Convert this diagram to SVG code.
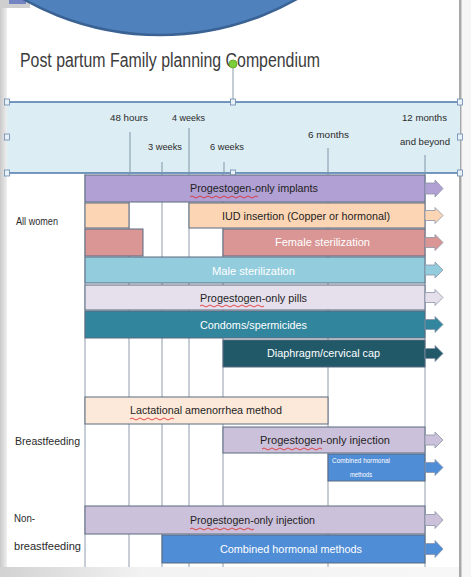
<svg xmlns="http://www.w3.org/2000/svg" width="471" height="577" viewBox="0 0 471 577">
<defs>
<style>
.t{font-family:"Liberation Sans Narrow","Liberation Sans",Arial,sans-serif;}
.hl{font-size:9px;fill:#2a2a2a;}
.bl{font-size:11px;fill:#1e1e1e;}
.wl{font-size:11px;fill:#ffffff;}
.rl{font-size:10.5px;fill:#2a2a2a;}
.bar{stroke:#5b6a80;stroke-width:1;}
.arr{stroke:#8a94a8;stroke-width:0.8;}
.grid{stroke:#8e9cab;stroke-width:1;fill:none;}
.tick{stroke:#7f95a8;stroke-width:1;}
.sq{fill:#e8f0f8;stroke:#6a8ab0;stroke-width:0.8;}
.wav{fill:none;stroke:#e02020;stroke-width:0.8;}
</style>
<linearGradient id="lg" x1="0" y1="0" x2="1" y2="0">
<stop offset="0" stop-color="#c9c9c9"/>
<stop offset="1" stop-color="#efefef"/>
</linearGradient>
<linearGradient id="bg" x1="0" y1="0" x2="1" y2="0">
<stop offset="0" stop-color="#d2d2d2"/>
<stop offset="0.3" stop-color="#f2f2f2"/>
<stop offset="1" stop-color="#f7f7f7"/>
</linearGradient>
</defs>

<rect x="0" y="0" width="471" height="577" fill="#ffffff"/>
<!-- frame -->
<rect x="0" y="0" width="7" height="577" fill="url(#lg)"/>
<rect x="0" y="0" width="30" height="8" fill="#cfcfcf"/>
<rect x="9" y="0" width="17" height="4" fill="#7384c2"/>
<rect x="0" y="567" width="471" height="10" fill="url(#bg)"/>
<rect x="459" y="0" width="2.5" height="577" fill="#a8a8a8"/>
<rect x="462" y="0" width="9" height="577" fill="#f6f6f6"/>

<!-- bubble -->
<g id="bubble">
<circle cx="160" cy="-243" r="278" fill="#4f81bd" stroke="#3a6293" stroke-width="2.5"/>
</g>

<!-- title -->
<g id="title">
<text class="t" x="20" y="67" font-size="20" fill="#3c3c3c" textLength="300" lengthAdjust="spacingAndGlyphs">Post partum Family planning Compendium</text>
<line x1="233" y1="68" x2="233" y2="100" stroke="#8a9aaa" stroke-width="1"/>
<circle cx="233" cy="64" r="4" fill="#7ccf3a" stroke="#5aa020" stroke-width="0.8"/>
</g>

<!-- header timeline -->
<g id="header">
<rect x="7" y="102" width="453" height="71" fill="#dcedf4"/>
<line x1="7" y1="102" x2="460" y2="102" stroke="#4a76aa" stroke-width="1.6"/>
<line x1="7" y1="173" x2="460" y2="173" stroke="#4a76aa" stroke-width="1.6"/>
<line class="tick" x1="130" y1="132" x2="130" y2="173"/>
<line class="tick" x1="162" y1="162" x2="162" y2="173"/>
<line class="tick" x1="189" y1="128" x2="189" y2="173"/>
<line class="tick" x1="224" y1="162" x2="224" y2="173"/>
<line class="tick" x1="328" y1="148" x2="328" y2="173"/>
<line class="tick" x1="425" y1="155" x2="425" y2="173"/>
<text class="t hl" x="110" y="121" textLength="38" lengthAdjust="spacingAndGlyphs">48 hours</text>
<text class="t hl" x="172" y="121" textLength="33" lengthAdjust="spacingAndGlyphs">4 weeks</text>
<text class="t hl" x="148" y="150" textLength="34" lengthAdjust="spacingAndGlyphs">3 weeks</text>
<text class="t hl" x="210" y="150" textLength="34" lengthAdjust="spacingAndGlyphs">6 weeks</text>
<text class="t hl" x="308" y="138" textLength="41" lengthAdjust="spacingAndGlyphs">6 months</text>
<text class="t hl" x="402" y="121" textLength="45" lengthAdjust="spacingAndGlyphs">12 months</text>
<text class="t hl" x="400" y="145" textLength="50" lengthAdjust="spacingAndGlyphs">and beyond</text>
<rect class="sq" x="4.5" y="99" width="5" height="6"/>
<rect class="sq" x="4.5" y="134" width="5" height="6"/>
<rect class="sq" x="4.5" y="170" width="5" height="6"/>
<rect class="sq" x="457.5" y="99" width="5" height="6"/>
<rect class="sq" x="457.5" y="134" width="5" height="6"/>
<rect class="sq" x="457.5" y="170" width="5" height="6"/>
<rect class="sq" x="230.5" y="99" width="5" height="6"/>
<rect class="sq" x="230.5" y="170" width="5" height="6"/>
</g>

<!-- grid -->
<g id="gridlines" class="grid">
<line x1="85" y1="174" x2="85" y2="567"/>
<line x1="129" y1="174" x2="129" y2="567"/>
<line x1="162" y1="174" x2="162" y2="567"/>
<line x1="189" y1="174" x2="189" y2="567"/>
<line x1="223" y1="174" x2="223" y2="567"/>
<line x1="328" y1="174" x2="328" y2="567"/>
<line x1="425" y1="174" x2="425" y2="567"/>
</g>

<!-- row labels -->
<g id="label-all-women"><text class="t rl" x="16" y="225" textLength="42" lengthAdjust="spacingAndGlyphs">All women</text></g>
<g id="label-breastfeeding"><text class="t rl" x="15" y="445" textLength="65" lengthAdjust="spacingAndGlyphs">Breastfeeding</text></g>
<g id="label-non-breastfeeding">
<text class="t rl" x="14" y="522" textLength="21" lengthAdjust="spacingAndGlyphs">Non-</text>
<text class="t rl" x="14" y="550" textLength="67" lengthAdjust="spacingAndGlyphs">breastfeeding</text>
</g>

<!-- bars -->
<g id="implants">
<rect class="bar" x="85" y="175" width="340" height="27" fill="#b1a0d3"/>
<path class="arr" d="M425,183 H435 V180 L443,188.5 L435,197 V194 H425 Z" fill="#b1a0d3"/>
<text class="t bl" x="190" y="192" textLength="128" lengthAdjust="spacingAndGlyphs">Progestogen-only implants</text>
<path class="wav" d="M190,197 q2,-2 4,0 t4,0 t4,0 t4,0 t4,0 t4,0 t4,0 t4,0 t4,0 t4,0 t4,0 t4,0 t4,0 t4,0 t4,0 t4,0 t4,0"/>
</g>

<g id="iud">
<rect class="bar" x="85" y="203" width="44" height="25" fill="#fcd5b5"/>
<rect class="bar" x="189" y="203" width="236" height="25" fill="#fcd5b5"/>
<path class="arr" d="M425,210.5 H435 V207.5 L443,215.5 L435,223.5 V220.5 H425 Z" fill="#fcd5b5"/>
<text class="t bl" x="222" y="220" textLength="168" lengthAdjust="spacingAndGlyphs">IUD insertion (Copper or hormonal)</text>
</g>

<g id="female-sterilization">
<rect class="bar" x="85" y="229" width="58" height="27" fill="#d99694"/>
<rect class="bar" x="223" y="229" width="202" height="27" fill="#d99694"/>
<path class="arr" d="M425,237.5 H435 V234.5 L443,242.5 L435,250.5 V247.5 H425 Z" fill="#d99694"/>
<text class="t wl" x="275" y="246" fill="#f8e4e4" textLength="95" lengthAdjust="spacingAndGlyphs">Female sterilization</text>
</g>

<g id="male-sterilization">
<rect class="bar" x="85" y="257" width="340" height="26" fill="#93cddd"/>
<path class="arr" d="M425,265 H435 V262 L443,270 L435,278 V275 H425 Z" fill="#93cddd"/>
<text class="t wl" x="212" y="275" textLength="83" lengthAdjust="spacingAndGlyphs">Male sterilization</text>
</g>

<g id="progestogen-only-pills">
<rect class="bar" x="85" y="285" width="340" height="25" fill="#e6e0ec"/>
<path class="arr" d="M425,292.5 H435 V289.5 L443,297.5 L435,305.5 V302.5 H425 Z" fill="#e6e0ec"/>
<text class="t bl" x="200" y="302" textLength="107" lengthAdjust="spacingAndGlyphs">Progestogen-only pills</text>
<path class="wav" d="M200,306 q2,-2 4,0 t4,0 t4,0 t4,0 t4,0 t4,0 t4,0 t4,0 t4,0 t4,0 t4,0 t4,0 t4,0 t4,0 t4,0 t4,0"/>
</g>

<g id="condoms">
<rect class="bar" x="85" y="311" width="340" height="27" fill="#31859c"/>
<path class="arr" d="M425,319.5 H435 V316.5 L443,324.5 L435,332.5 V329.5 H425 Z" fill="#31859c" stroke="#2a6e82"/>
<text class="t wl" x="200" y="329" fill="#e4f2f6" textLength="107" lengthAdjust="spacingAndGlyphs">Condoms/spermicides</text>
</g>

<g id="diaphragm">
<rect class="bar" x="223" y="340" width="202" height="27" fill="#215968"/>
<path class="arr" d="M425,348.5 H435 V345.5 L443,353.5 L435,361.5 V358.5 H425 Z" fill="#215968" stroke="#1c4a57"/>
<text class="t wl" x="267" y="357" textLength="113" lengthAdjust="spacingAndGlyphs">Diaphragm/cervical cap</text>
</g>

<g id="lactational-amenorrhea">
<rect class="bar" x="85" y="397" width="243" height="27" fill="#fde9d9"/>
<text class="t bl" x="130" y="414" textLength="152" lengthAdjust="spacingAndGlyphs">Lactational amenorrhea method</text>
<path class="wav" d="M130,419 q2,-2 4,0 t4,0 t4,0 t4,0 t4,0 t4,0 t4,0 t4,0 t4,0 t4,0 t4,0"/>
</g>

<g id="bf-progestogen-injection">
<rect class="bar" x="223" y="427" width="202" height="26" fill="#ccc1da"/>
<path class="arr" d="M425,435 H435 V432 L443,440 L435,448 V445 H425 Z" fill="#ccc1da"/>
<text class="t bl" x="260" y="444" textLength="130" lengthAdjust="spacingAndGlyphs">Progestogen-only injection</text>
<path class="wav" d="M262,449 q2,-2 4,0 t4,0 t4,0 t4,0 t4,0 t4,0 t4,0 t4,0 t4,0 t4,0 t4,0 t4,0 t4,0 t4,0 t4,0"/>
</g>

<g id="bf-combined-hormonal">
<rect class="bar" x="328" y="454" width="97" height="27" fill="#4f8dd6"/>
<path class="arr" d="M425,462.5 H435 V459.5 L443,467.5 L435,475.5 V472.5 H425 Z" fill="#4f8dd6" stroke="#3f72b0"/>
<text class="t" x="332" y="463" font-size="6.5" fill="#ffffff" textLength="58" lengthAdjust="spacingAndGlyphs">Combined  hormonal</text>
<text class="t" x="350" y="477" font-size="6.5" fill="#ffffff" textLength="22" lengthAdjust="spacingAndGlyphs">methods</text>
</g>

<g id="nbf-progestogen-injection">
<rect class="bar" x="85" y="506" width="340" height="28" fill="#ccc1da"/>
<path class="arr" d="M425,514.5 H435 V511.5 L443,520 L435,528.5 V525.5 H425 Z" fill="#ccc1da"/>
<text class="t bl" x="190" y="524" textLength="125" lengthAdjust="spacingAndGlyphs">Progestogen-only injection</text>
<path class="wav" d="M190,529 q2,-2 4,0 t4,0 t4,0 t4,0 t4,0 t4,0 t4,0 t4,0 t4,0 t4,0 t4,0 t4,0 t4,0 t4,0 t4,0 t4,0"/>
</g>

<g id="nbf-combined-hormonal">
<rect class="bar" x="162" y="535" width="263" height="28" fill="#4f8dd6"/>
<path class="arr" d="M425,543.5 H435 V540.5 L443,549 L435,557.5 V554.5 H425 Z" fill="#4f8dd6" stroke="#3f72b0"/>
<text class="t wl" x="220" y="553" fill="#e8f0fa" textLength="142" lengthAdjust="spacingAndGlyphs">Combined hormonal methods</text>
</g>

<g id="connectors"></g>
</svg>
